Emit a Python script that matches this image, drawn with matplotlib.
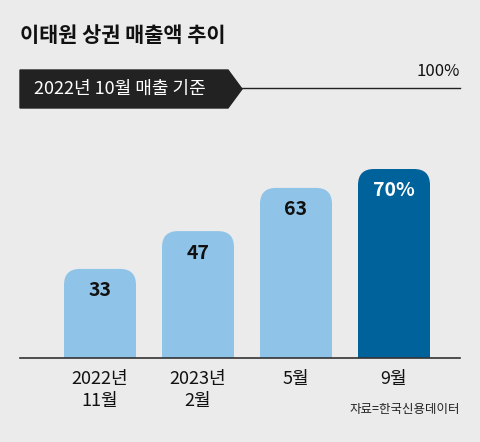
import matplotlib
matplotlib.use("Agg")
import matplotlib.pyplot as plt
from matplotlib.patches import FancyBboxPatch, Rectangle, Polygon

plt.rcParams['font.family'] = ['Noto Sans CJK KR', 'DejaVu Sans']

categories = ["2022년\n11월", "2023년\n2월", "5월", "9월"]
values = [33, 47, 63, 70]
value_labels = ["33", "47", "63", "70%"]
colors = ["#8fc4e8", "#8fc4e8", "#8fc4e8", "#00629b"]
text_colors = ["#111111", "#111111", "#111111", "white"]

W, H = 480, 442
fig = plt.figure(figsize=(W / 100, H / 100), dpi=100)
fig.patch.set_facecolor("#ebebeb")

# overlay in pixel coords for decorations
deco = fig.add_axes([0, 0, 1, 1])
deco.set_xlim(0, W)
deco.set_ylim(H, 0)
deco.axis("off")
deco.text(20, 36, "이태원 상권 매출액 추이", fontsize=15, fontweight="bold", va="center", color="#111111")
deco.add_patch(Polygon([[20, 70], [228, 70], [242, 89], [228, 108], [20, 108]], closed=True, color="#222222"))
deco.text(34, 89, "2022년 10월 매출 기준", fontsize=13, color="white", va="center")
deco.text(460, 72, "100%", fontsize=12, color="#111111", ha="right", va="center")
deco.text(460, 410, "자료=한국신용데이터", fontsize=9, color="#222222", ha="right", va="center")

# bar axes: y 0..100 maps pixel 358..88
ax = fig.add_axes([0, (H - 358) / H, 1, 270 / H])
ax.set_xlim(0, W)
ax.set_ylim(0, 100)
ax.axis("off")
ax.patch.set_alpha(0)
ax.plot([240, 460], [100, 100], color="#222222", lw=1, clip_on=False)
ax.plot([20, 460], [0, 0], color="#333333", lw=1.2, clip_on=False)

centers = [100, 198, 296, 394]
bw = 72
asp = 100 / 270
for xc, v, c, lab, tc, cat in zip(centers, values, colors, value_labels, text_colors, categories):
    ax.add_patch(FancyBboxPatch((xc - bw / 2, 0), bw, v,
                                boxstyle="round,pad=0,rounding_size=16",
                                mutation_aspect=asp, color=c, lw=0))
    ax.add_patch(Rectangle((xc - bw / 2, 0), bw, v / 2, color=c, lw=0))
    ax.text(xc, v - 22 * asp, lab, ha="center", va="center", fontsize=14,
            fontweight="bold", color=tc, family="Roboto Condensed" if False else None)
    ax.text(xc, -12 * asp, cat, ha="center", va="top", fontsize=13,
            color="#111111", linespacing=1.3)

fig.savefig("out.png", dpi=100, facecolor=fig.get_facecolor())
